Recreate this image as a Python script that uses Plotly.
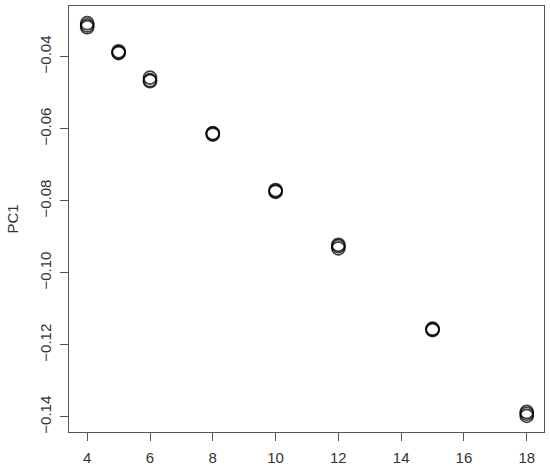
import plotly.graph_objects as go

# Replicate PC1 scores per group (x)
x_vals = [4, 4, 4, 5, 5, 5, 6, 6, 6, 8, 8, 8, 10, 10, 10, 12, 12, 12, 15, 15, 15, 18, 18, 18]
pc1_vals = [-0.0307, -0.0313, -0.0318,
            -0.0385, -0.0388, -0.0390,
            -0.0458, -0.0465, -0.0468,
            -0.0612, -0.0614, -0.0616,
            -0.0770, -0.0773, -0.0775,
            -0.0922, -0.0926, -0.0932,
            -0.1155, -0.1157, -0.1159,
            -0.1386, -0.1391, -0.1397]

x_ticks = [4, 6, 8, 10, 12, 14, 16, 18]
y_ticks = [-0.04, -0.06, -0.08, -0.10, -0.12, -0.14]
y_tick_text = ["\u22120.04", "\u22120.06", "\u22120.08", "\u22120.10", "\u22120.12", "\u22120.14"]

fig = go.Figure()
fig.add_trace(go.Scatter(
    x=x_vals, y=pc1_vals, mode="markers",
    marker=dict(symbol="circle-open", size=13, color="rgba(0,0,0,0.75)",
                line=dict(width=1.7, color="rgba(0,0,0,0.75)")),
    showlegend=False, hoverinfo="skip",
))

axis_common = dict(
    showline=True, mirror=True, linecolor="#555555", linewidth=1,
    ticks="outside", ticklen=8, tickcolor="#555555", tickwidth=1,
    showgrid=False, zeroline=False, automargin=False,
    tickfont=dict(family="Liberation Sans, Arial, sans-serif", size=15, color="#333333"),
)

fig.update_xaxes(range=[3.42, 18.55], tickvals=x_ticks, ticklabelstandoff=4, **axis_common)
fig.update_yaxes(range=[-0.14417, -0.02592], tickvals=y_ticks, ticktext=y_tick_text,
                 tickangle=-90, ticklabelstandoff=3,
                 title=dict(text="PC1", font=dict(family="Liberation Sans, Arial, sans-serif",
                                                  size=15, color="#333333"), standoff=14),
                 **axis_common)

fig.update_layout(
    width=550, height=471,
    margin=dict(l=69, r=6, t=6, b=39),
    plot_bgcolor="white", paper_bgcolor="white",
)

fig.write_html("out.html", config={"displayModeBar": False, "staticPlot": True},
               post_script="document.body.style.margin='0';document.body.style.overflow='hidden';")
